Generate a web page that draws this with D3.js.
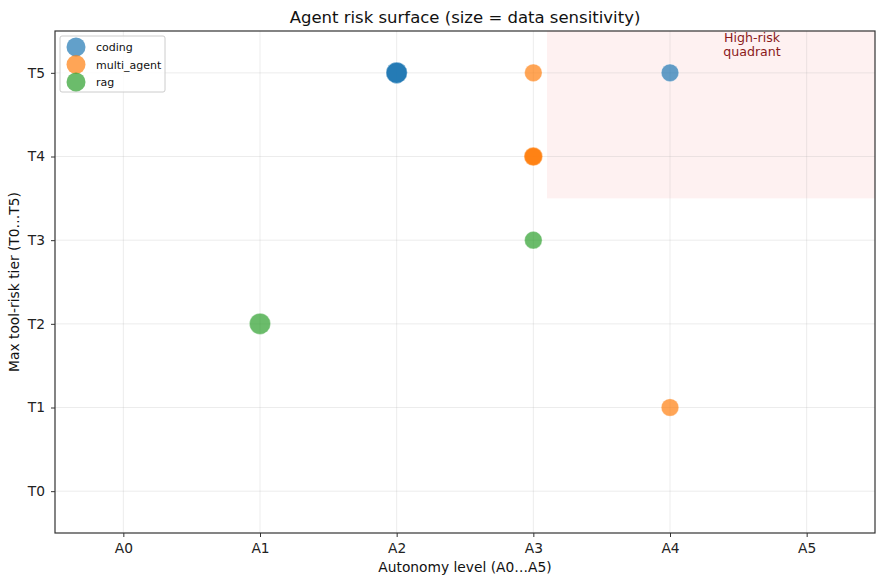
<!DOCTYPE html>
<html><head><meta charset="utf-8">
<script src="https://cdn.jsdelivr.net/npm/d3@7"></script>
<style>body{margin:0;background:#fff}svg{display:block}text{font-family:"DejaVu Sans",sans-serif}</style>
</head><body><svg id="c" width="882" height="584"></svg>
<script>
const xTicks = ["A0","A1","A2","A3","A4","A5"];
const yTicks = ["T0","T1","T2","T3","T4","T5"];
const categories = ["coding","multi_agent","rag"];
const colors = ["#1f77b4","#ff7f0e","#2ca02c"];
// each point: category, autonomy index, tier index, data sensitivity
const ptCategory    = ["coding","coding","coding","coding","multi_agent","multi_agent","multi_agent","multi_agent","multi_agent","rag","rag"];
const ptAutonomy    = [2,2,2,4,3,3,3,3,4,1,3];
const ptTier        = [5,5,5,5,5,4,4,4,1,2,3];
const ptSensitivity = [2,2,2,1,1,1,1,1.3,1,2,1];
const quadrant = {x0:3.1, x1:5.5, y0:3.5, y1:5.5};

const svg = d3.select("#c");
const m = {l:55, r:875, t:31, b:533};
const x = d3.scaleLinear().domain([-0.5,5.5]).range([m.l,m.r]);
const y = d3.scaleLinear().domain([-0.5,5.5]).range([m.b,m.t]);
const col = d3.scaleOrdinal().domain(categories).range(colors);
const r = d3.scaleSqrt().domain([0,1,2]).range([0,8.8,10.6]);

// quadrant
svg.append("rect").attr("x",x(quadrant.x0)).attr("y",y(quadrant.y1))
  .attr("width",x(quadrant.x1)-x(quadrant.x0)).attr("height",y(quadrant.y0)-y(quadrant.y1))
  .attr("fill","#fef1f1");

// grid
const g = svg.append("g");
xTicks.forEach((t,i)=>g.append("line").attr("x1",x(i)).attr("x2",x(i)).attr("y1",m.t).attr("y2",m.b).attr("stroke","#b0b0b0").attr("stroke-opacity",0.3).attr("stroke-width",0.8));
yTicks.forEach((t,i)=>g.append("line").attr("y1",y(i)).attr("y2",y(i)).attr("x1",m.l).attr("x2",m.r).attr("stroke","#b0b0b0").attr("stroke-opacity",0.3).attr("stroke-width",0.8));

svg.append("text").attr("x",752).attr("y",42).attr("text-anchor","middle").attr("font-size",12.6).attr("fill","#8b1a1a").text("High-risk");
svg.append("text").attr("x",752).attr("y",56).attr("text-anchor","middle").attr("font-size",12.6).attr("fill","#8b1a1a").text("quadrant");

// points
const pts = ptCategory.map((c,i)=>({c, a:ptAutonomy[i], t:ptTier[i], s:ptSensitivity[i]}));
svg.append("g").selectAll("circle").data(pts).join("circle")
  .attr("cx",d=>x(d.a)).attr("cy",d=>y(d.t)).attr("r",d=>r(d.s))
  .attr("fill",d=>col(d.c)).attr("fill-opacity",0.7)
  .attr("stroke","#fff").attr("stroke-opacity",0.7).attr("stroke-width",0.5);

// axes
const xa = svg.append("g").attr("transform",`translate(0,${m.b})`)
  .call(d3.axisBottom(x).tickValues(d3.range(6)).tickFormat(i=>xTicks[i]).tickSize(4).tickPadding(6));
const ya = svg.append("g").attr("transform",`translate(${m.l},0)`)
  .call(d3.axisLeft(y).tickValues(d3.range(6)).tickFormat(i=>yTicks[i]).tickSize(4).tickPadding(6));
[xa,ya].forEach(a=>{a.select(".domain").remove();a.selectAll("text").attr("font-size",13.8).attr("fill","#222").attr("font-family","DejaVu Sans");a.selectAll("line").attr("stroke","#333");});
svg.append("rect").attr("x",m.l).attr("y",m.t).attr("width",m.r-m.l).attr("height",m.b-m.t).attr("fill","none").attr("stroke","#333").attr("stroke-width",1.2);

// labels
svg.append("text").attr("x",(m.l+m.r)/2).attr("y",23).attr("text-anchor","middle").attr("font-size",16.5).attr("fill","#111").text("Agent risk surface (size = data sensitivity)");
svg.append("text").attr("x",(m.l+m.r)/2).attr("y",572).attr("text-anchor","middle").attr("font-size",13.8).attr("fill","#111").text("Autonomy level (A0…A5)");
svg.append("text").attr("transform",`translate(19,${(m.t+m.b)/2}) rotate(-90)`).attr("text-anchor","middle").attr("font-size",13.8).attr("fill","#111").text("Max tool-risk tier (T0…T5)");

// legend
const lg = svg.append("g");
lg.append("rect").attr("x",60).attr("y",36).attr("width",105).attr("height",56).attr("rx",2).attr("fill","#fff").attr("fill-opacity",0.8).attr("stroke","#ccc");
categories.forEach((c,i)=>{
  lg.append("circle").attr("cx",76).attr("cy",47+i*17.5).attr("r",9.5).attr("fill",colors[i]).attr("fill-opacity",0.7);
  lg.append("text").attr("x",96).attr("y",51+i*17.5).attr("font-size",11).attr("fill","#111").text(c);
});
</script></body></html>
